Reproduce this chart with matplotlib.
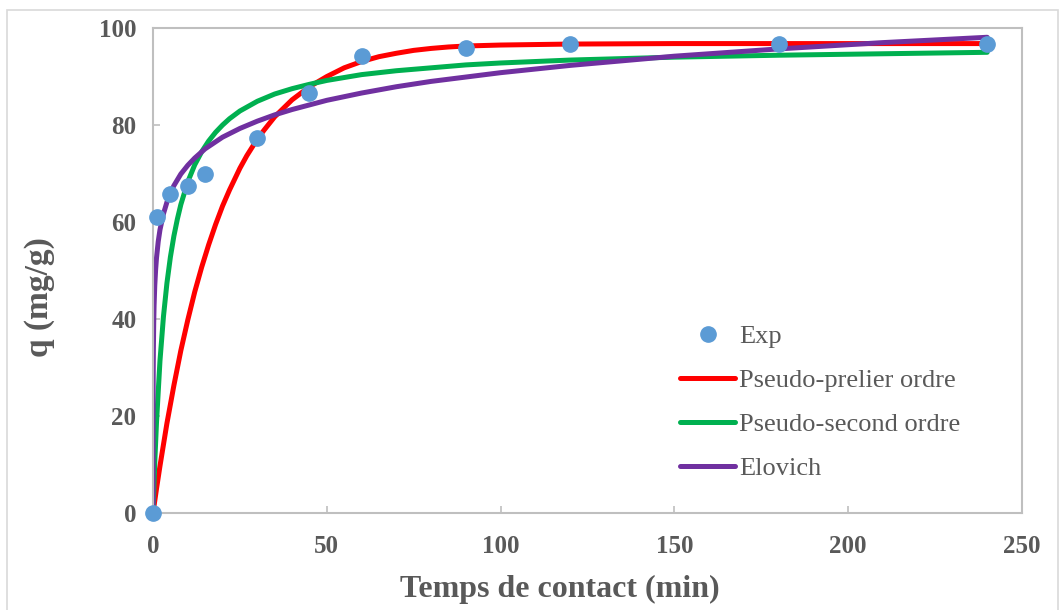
import numpy as np
import matplotlib
matplotlib.use("Agg")
import matplotlib.pyplot as plt
from matplotlib.patches import Rectangle

# experimental uptake
t_exp = [0, 1, 5, 10, 15, 30, 45, 60, 90, 120, 180, 240]
q_exp = [0, 61.0, 65.7, 67.5, 70.0, 77.3, 86.7, 94.3, 95.8, 96.7, 96.7, 96.7]

# model curves (min, mg/g)
t_pfo = [0, 1, 2, 4, 6, 8, 10, 12, 14, 16, 18, 20, 22, 25, 27, 30, 32, 35,
         40, 45, 50, 55, 60, 65, 70, 75, 80, 85, 90, 100, 120, 150, 180,
         210, 240]
q_pfo = [0, 5.0, 9.7, 18.5, 26.3, 33.5, 39.8, 45.6, 50.7, 55.3, 59.5, 63.3,
         66.6, 71.1, 73.7, 77.1, 79.0, 81.7, 85.2, 87.9, 90.0, 91.8, 93.1,
         94.1, 94.8, 95.4, 95.8, 96.1, 96.3, 96.5, 96.7, 96.8, 96.8, 96.8,
         96.8]

t_pso = [0, 0.5, 1, 2, 3, 4, 5, 6, 7, 8, 10, 12, 14, 16, 18, 20, 22, 25, 30,
         35, 40, 45, 50, 60, 70, 80, 90, 100, 120, 150, 180, 210, 240]
q_pso = [0, 10.4, 18.7, 31.4, 40.5, 47.4, 52.8, 57.1, 60.6, 63.6, 68.3,
         71.8, 74.5, 76.7, 78.5, 80.0, 81.3, 82.9, 84.9, 86.4, 87.5, 88.4,
         89.2, 90.4, 91.2, 91.8, 92.4, 92.8, 93.4, 94.0, 94.4, 94.7, 95.0]

t_elo = [0, 0.01, 0.02, 0.05, 0.1, 0.2, 0.3, 0.5, 0.75, 1, 1.5, 2, 3, 4, 5,
         6, 8, 10, 12, 15, 20, 25, 30, 35, 40, 50, 60, 70, 80, 100, 120, 150,
         180, 210, 240]
q_elo = [0, 15.7, 20.8, 28.0, 33.6, 39.3, 42.7, 46.9, 50.2, 52.6, 56.0,
         58.4, 61.7, 64.1, 66.0, 67.5, 69.9, 71.7, 73.2, 75.1, 77.5, 79.3,
         80.8, 82.1, 83.2, 85.1, 86.6, 87.9, 89.0, 90.8, 92.3, 94.2, 95.7,
         97.0, 98.1]

GREY = "#595959"
AXIS = "#BFBFBF"

plt.rcParams["font.family"] = ["Liberation Serif", "DejaVu Serif"]

fig = plt.figure(figsize=(10.59, 6.10), dpi=100)
ax = fig.add_axes([0.1445, 0.159, 0.8205, 0.795])

ax.plot(t_exp, q_exp, "o", color="#5B9BD5", ms=11, zorder=5,
        clip_on=False, label="Exp")
ax.plot(t_pfo, q_pfo, color="#FF0000", lw=3.6, solid_capstyle="round",
        solid_joinstyle="round", label="Pseudo-prelier ordre")
ax.plot(t_pso, q_pso, color="#00B050", lw=3.6, solid_capstyle="round",
        solid_joinstyle="round", label="Pseudo-second ordre")
ax.plot(t_elo, q_elo, color="#7030A0", lw=3.6, solid_capstyle="round",
        solid_joinstyle="round", label="Elovich")

ax.set_xlim(0, 250)
ax.set_ylim(0, 100)
ax.set_xticks(range(0, 251, 50))
ax.set_yticks(range(0, 101, 20))

for s in ax.spines.values():
    s.set_color(AXIS)
    s.set_linewidth(1.5)
ax.tick_params(direction="in", length=5, width=1.2, color=AXIS,
               labelcolor=GREY, labelsize=18, pad=12)
ax.tick_params(axis="x", pad=16)
for lab in ax.get_xticklabels() + ax.get_yticklabels():
    lab.set_fontweight("bold")

ax.set_xlabel("Temps de contact (min)", fontsize=23, fontweight="bold",
              color=GREY, labelpad=6)
ax.xaxis.set_label_coords(0.468, -0.128)
ax.set_ylabel("q (mg/g)", fontsize=24, fontweight="bold", color=GREY)
ax.yaxis.set_label_coords(-0.113, 0.445)

leg = ax.legend(loc="upper left", bbox_to_anchor=(0.642, 0.468),
                bbox_transform=fig.transFigure, frameon=False, fontsize=19,
                handlelength=2.1, handletextpad=0.15, labelspacing=0.78,
                borderpad=0, borderaxespad=0)
for txt in leg.get_texts():
    txt.set_color(GREY)

# light chart-area border
fig.patches.append(Rectangle((7 / 1059, -0.01), 1 - 8 / 1059, 1 - 10 / 610 + 0.01,
                             transform=fig.transFigure, fill=False,
                             edgecolor="#D9D9D9", lw=1.2))

fig.savefig("out.png", dpi=100)
